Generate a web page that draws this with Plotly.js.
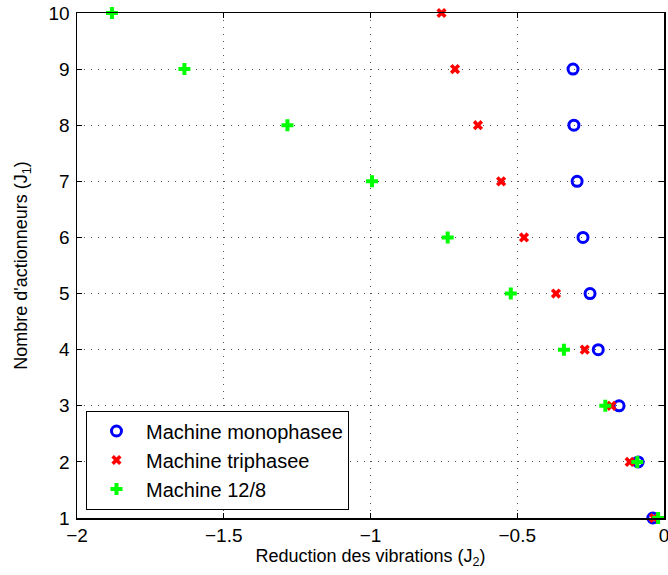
<!DOCTYPE html>
<html>
<head>
<meta charset="utf-8">
<script src="https://cdn.plot.ly/plotly-3.0.1.min.js"></script>
<style>html,body{margin:0;padding:0;background:#fff;}#chart{width:668px;height:575px;}</style>
</head>
<body>
<div id="chart"></div>
<script>
// Number of actuators (J1)
const nbActionneurs = [1, 2, 3, 4, 5, 6, 7, 8, 9, 10];
// Vibration reduction (J2) per machine
const monophasee = [-0.038, -0.088, -0.153, -0.224, -0.252, -0.276, -0.296, -0.307, -0.310];
const monoJ1 = [1, 2, 3, 4, 5, 6, 7, 8, 9];
const triphasee = [-0.034, -0.117, -0.179, -0.270, -0.368, -0.477, -0.555, -0.634, -0.712, -0.758];
const machine128 = [-0.020, -0.091, -0.200, -0.341, -0.522, -0.737, -0.995, -1.283, -1.634, -1.881];

const seriesNames = ['Machine monophasee', 'Machine triphasee', 'Machine 12/8'];
const xTicks = [-2, -1.5, -1, -0.5, 0];
const xTickText = ['\u22122', '\u22121.5', '\u22121', '\u22120.5', '0'];
const yTicks = [1, 2, 3, 4, 5, 6, 7, 8, 9, 10];

const font = 'Liberation Sans, Arial, Helvetica, sans-serif';

const traces = [
  {x: monophasee, y: monoJ1, name: seriesNames[0], type: 'scatter', mode: 'markers', cliponaxis: false,
   marker: {symbol: 'circle-open', size: 10, color: '#0000ff', line: {width: 3, color: '#0000ff'}}},
  {x: triphasee, y: nbActionneurs, name: seriesNames[1], type: 'scatter', mode: 'markers', cliponaxis: false,
   marker: {symbol: 'x', size: 9, color: '#ff0000', line: {width: 0}}},
  {x: machine128, y: nbActionneurs, name: seriesNames[2], type: 'scatter', mode: 'markers', cliponaxis: false,
   marker: {symbol: 'cross', size: 10, color: '#00ff00', line: {width: 0}}}
];

const axisCommon = {
  showline: true, linecolor: '#000', linewidth: 1.5, mirror: 'ticks',
  ticks: 'inside', ticklen: 5, tickcolor: '#000', tickwidth: 1,
  showgrid: true, gridcolor: '#555', griddash: '1px,6px', gridwidth: 1,
  zeroline: false, ticklabeloverflow: 'allow',
  tickfont: {family: font, size: 19, color: '#000'}
};

const layout = {
  width: 668, height: 575,
  margin: {l: 77, r: 4, t: 13, b: 57},
  paper_bgcolor: '#fff', plot_bgcolor: '#fff',
  font: {family: font, color: '#000'},
  showlegend: true,
  legend: {x: 0.0153, y: 0.0168, xanchor: 'left', yanchor: 'bottom',
           bordercolor: '#000', borderwidth: 1, bgcolor: '#fff', tracegroupgap: 0,
           font: {family: font, size: 20, color: '#000'}, itemwidth: 49},
  xaxis: Object.assign({}, axisCommon, {
    range: [-2, 0], tickvals: xTicks, ticktext: xTickText,
    title: {text: 'Reduction des vibrations (J<sub>2</sub>)', font: {family: font, size: 18, color: '#000'}, standoff: 2}
  }),
  yaxis: Object.assign({}, axisCommon, {
    range: [1, 10], tickvals: yTicks,
    ticklabelstandoff: 2,
    title: {text: "Nombre d'actionneurs (J<sub>1</sub>)", font: {family: font, size: 18, color: '#000'}, standoff: 16}
  })
};

Plotly.newPlot('chart', traces, layout, {displayModeBar: false, staticPlot: true});
</script>
</body>
</html>
